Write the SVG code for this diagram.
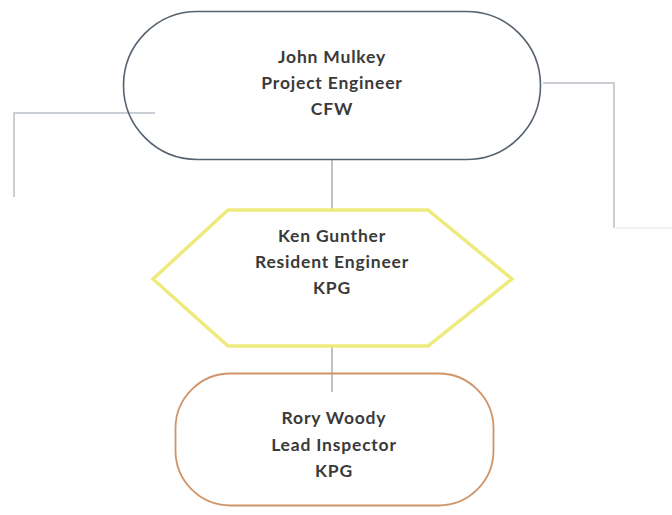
<svg xmlns="http://www.w3.org/2000/svg" width="672" height="515" viewBox="0 0 672 515">
<style>
.lbl{font-family:"Lato","Liberation Sans",sans-serif;font-size:17.5px;font-weight:bold;fill:#3a3a3a;text-anchor:middle;letter-spacing:0.8px}
.conn{fill:none;stroke:#b9c0c8;stroke-width:1.5}
.stem{fill:none;stroke:#7f8891;stroke-width:1}
</style>
<rect width="672" height="515" fill="#ffffff"/>
<g id="connectors">
<polyline class="conn" points="155,113 14,113 14,197"/>
<polyline class="conn" points="543,83 614,83 614,228"/>
<line x1="614" y1="228" x2="672" y2="228" stroke="#eceef0" stroke-width="1.5"/>
<line class="stem" x1="332" y1="159" x2="332" y2="211"/>
<line class="stem" x1="332" y1="346" x2="332" y2="392"/>
</g>
<g id="node-john">
<rect x="123.5" y="11.5" width="417" height="148" rx="74" ry="74" fill="none" stroke="#56626f" stroke-width="1.6"/>
<text class="lbl" x="332" y="63">John Mulkey</text>
<text class="lbl" x="332" y="89">Project Engineer</text>
<text class="lbl" x="332" y="115">CFW</text>
</g>
<g id="node-ken">
<polygon points="228,210 428,210 512,279 428,346 228,346 153,279" fill="none" stroke="#eeea7e" stroke-width="3.5" stroke-linejoin="miter"/>
<text class="lbl" x="332" y="242">Ken Gunther</text>
<text class="lbl" x="332" y="268">Resident Engineer</text>
<text class="lbl" x="332" y="294">KPG</text>
</g>
<g id="node-rory">
<rect x="175.5" y="373.5" width="318" height="132" rx="55" ry="55" fill="none" stroke="#cf9467" stroke-width="1.8"/>
<text class="lbl" x="334" y="424">Rory Woody</text>
<text class="lbl" x="334" y="451">Lead Inspector</text>
<text class="lbl" x="334" y="477">KPG</text>
</g>
</svg>
